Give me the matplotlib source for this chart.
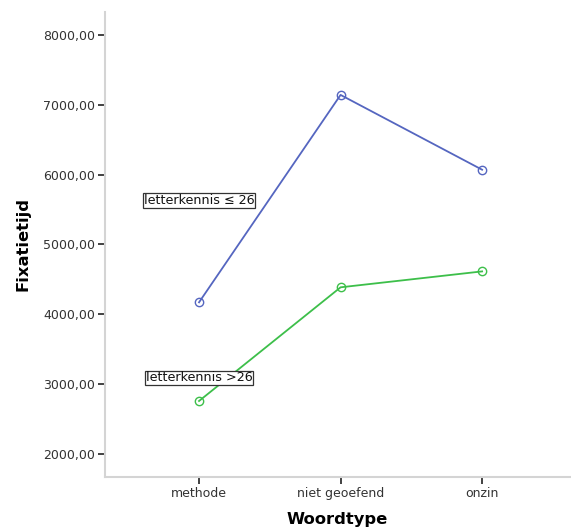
import numpy as np
import matplotlib
matplotlib.use("Agg")
import matplotlib.pyplot as plt

# <------------------------------ Data ---------------------------------------->
categorieen = ["methode", "niet geoefend", "onzin"]
fix_laag = [4171, 7143, 6071]     # letterkennis <= 26
fix_hoog = [2757, 4386, 4614]     # letterkennis > 26
y_ticks = [2000, 3000, 4000, 5000, 6000, 7000, 8000]

# <------------------------------ Figuur -------------------------------------->
fig = plt.figure(figsize=(5.71, 5.28), dpi=100)
ax = fig.add_axes([0.184, 0.097, 0.814, 0.88])

x = np.arange(len(categorieen))
ax.plot(x, fix_laag, color="#5566c0", lw=1.3, marker="o", ms=6,
        mfc="none", mec="#5566c0", mew=1.0)
ax.plot(x, fix_hoog, color="#3dbf4a", lw=1.3, marker="o", ms=6,
        mfc="none", mec="#3dbf4a", mew=1.0)

box = dict(boxstyle="square,pad=0.05", fc="white", ec="#333333", lw=0.9)
ax.text(0, 5630, "letterkennis \u2264 26", ha="center", va="center",
        fontsize=9.2, color="#111111", bbox=box)
ax.text(0, 3090, "letterkennis >26", ha="center", va="center",
        fontsize=9.2, color="#111111", bbox=box)

ax.set_xlim(-0.664, 2.62)
ax.set_ylim(1671, 8329)
ax.set_xticks(x)
ax.set_xticklabels(categorieen)
ax.set_yticks(y_ticks)
ax.set_yticklabels([f"{v},00" for v in y_ticks])

for s in ["top", "right"]:
    ax.spines[s].set_visible(False)
for s in ["left", "bottom"]:
    ax.spines[s].set_color("#d4d4d4")
    ax.spines[s].set_linewidth(1.5)
ax.tick_params(axis="both", colors="#333333", labelcolor="#333333",
               labelsize=9, length=5, width=1.3, pad=2)

ax.set_xlabel("Woordtype", fontsize=11.8, fontweight="bold", labelpad=9)
ax.set_ylabel("Fixatietijd", fontsize=11.8, fontweight="bold", labelpad=9)

fig.savefig("out.png", dpi=100)
